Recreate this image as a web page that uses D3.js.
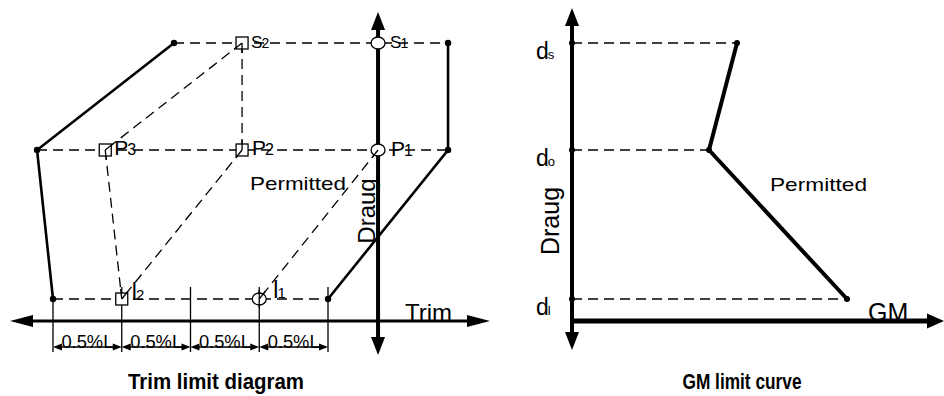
<!DOCTYPE html>
<html>
<head>
<meta charset="utf-8">
<script src="https://cdn.jsdelivr.net/npm/d3@7"></script>
<style>
body { margin: 0; background: #fff; }
text { font-family: "Liberation Sans", Arial, sans-serif; fill: #000; }
</style>
</head>
<body>
<div id="chart"></div>
<script>
// draft levels shared by both diagrams: light, optimum, summer
var draftSubs = ["l", "o", "s"];
var draftValues = [1.1, 8.55, 13.9];

// trim diagram (trim in %L)
var trimTicks = [-2, -1.5, -1, -0.5, 0];
var dimLabel = "0.5%L";
var axisTrim = 0.364;
var envLeftTrim = [-1.12, -2.116, -2];     // at ds, do, dl
var envRightTrim = [0.873, 0.873, 0];
var squareNames = ["S", "P", "P", "l"];
var squareSubs = ["2", "3", "2", "2"];
var squareTrim = [-0.625, -1.62, -0.625, -1.5];
var squareDraft = [13.9, 8.55, 8.55, 1.1];
var circleNames = ["S", "P", "l"];
var circleSubs = ["1", "1", "1"];
var circleTrim = [0.364, 0.364, -0.5];
var circleDraft = [13.9, 8.55, 1.1];
// construction lines, from point to point (trim, draft)
var guides = [
  [[-0.625, 13.9], [-1.62, 8.55]],
  [[-0.625, 13.9], [-0.625, 8.55]],
  [[-1.62, 8.55], [-1.5, 1.1]],
  [[-0.625, 8.55], [-1.5, 1.1]],
  [[0.364, 8.55], [-0.5, 1.1]]
];

// GM limit curve
var gmValues = [3.3, 2.74, 5.5];
var gmDrafts = [13.9, 8.55, 1.1];

var W = 944, H = 396;
var svg = d3.select("#chart").append("svg").attr("width", W).attr("height", H);

var xT = d3.scaleLinear().domain([-2, 0]).range([53, 328]);
var yD = d3.scaleLinear().domain([0, 14]).range([321, 41]);
var xG = d3.scaleLinear().domain([0, 7.44]).range([572, 944]);

var dash = "10,6";

function arrowLine(g, x1, y1, x2, y2, sw, len, half, both) {
  var dx = x2 - x1, dy = y2 - y1, L = Math.hypot(dx, dy), ux = dx / L, uy = dy / L;
  g.append("line")
    .attr("x1", x1 + (both ? ux * len * 0.8 : 0)).attr("y1", y1 + (both ? uy * len * 0.8 : 0))
    .attr("x2", x2 - ux * len * 0.8).attr("y2", y2 - uy * len * 0.8)
    .attr("stroke", "#000").attr("stroke-width", sw);
  function head(tx, ty, vx, vy) {
    var bx = tx - vx * len, by = ty - vy * len;
    g.append("polygon")
      .attr("points", [[tx, ty], [bx - vy * half, by + vx * half], [bx + vy * half, by - vx * half]].map(function(p){ return p.join(","); }).join(" "))
      .attr("fill", "#000");
  }
  head(x2, y2, ux, uy);
  if (both) head(x1, y1, -ux, -uy);
}

function label(g, x, y, main, sub, fs, subFs) {
  var t = g.append("text").attr("x", x).attr("y", y).attr("font-size", fs);
  t.append("tspan").text(main);
  if (sub) t.append("tspan").attr("font-size", subFs).attr("dx", -1).text(sub);
  return t;
}

// ---------------- Trim limit diagram ----------------
var left = svg.append("g");

// dashed draft rows
var rowL = [envLeftTrim[2], envLeftTrim[1], envLeftTrim[0]];
var rowR = [envRightTrim[2], envRightTrim[1], envRightTrim[0]];
draftValues.forEach(function(d, i) {
  left.append("line")
    .attr("x1", xT(rowL[i])).attr("x2", xT(rowR[i]))
    .attr("y1", yD(d)).attr("y2", yD(d))
    .attr("stroke", "#000").attr("stroke-width", 1.3).attr("stroke-dasharray", dash);
});

guides.forEach(function(gd) {
  left.append("line")
    .attr("x1", xT(gd[0][0])).attr("y1", yD(gd[0][1]))
    .attr("x2", xT(gd[1][0])).attr("y2", yD(gd[1][1]))
    .attr("stroke", "#000").attr("stroke-width", 1.3).attr("stroke-dasharray", dash);
});

// envelope
var envD = [13.9, 8.55, 1.1];
var line = d3.line().x(function(p){ return xT(p[0]); }).y(function(p){ return yD(p[1]); });
[envLeftTrim, envRightTrim].forEach(function(env) {
  left.append("path")
    .attr("d", line(env.map(function(t, i){ return [t, envD[i]]; })))
    .attr("fill", "none").attr("stroke", "#000").attr("stroke-width", 2.6);
  env.forEach(function(t, i) {
    left.append("circle").attr("cx", xT(t)).attr("cy", yD(envD[i])).attr("r", 3.2).attr("fill", "#000");
  });
});

// ticks and dimension arrows
trimTicks.forEach(function(t, i) {
  left.append("line")
    .attr("x1", xT(t)).attr("x2", xT(t))
    .attr("y1", i === 0 ? yD(1.1) : 287).attr("y2", 352)
    .attr("stroke", "#000").attr("stroke-width", 1.3);
  if (i > 0) {
    var a = xT(trimTicks[i - 1]), b = xT(t);
    left.append("text")
      .attr("x", (a + b) / 2).attr("y", 348)
      .attr("text-anchor", "middle").attr("font-size", 18)
      .attr("textLength", 52).attr("lengthAdjust", "spacingAndGlyphs")
      .text(dimLabel);
    arrowLine(left, a, 347, b, 347, 1.3, 9, 3.5, true);
  }
});

// axes
arrowLine(left, 10, 321, 490, 321, 3, 23, 6, true);
arrowLine(left, xT(axisTrim), 355, xT(axisTrim), 12, 4, 18, 7, true);

// markers
squareTrim.forEach(function(t, i) {
  left.append("rect")
    .attr("x", xT(t) - 6).attr("y", yD(squareDraft[i]) - 6)
    .attr("width", 12).attr("height", 12)
    .attr("fill", "#fff").attr("stroke", "#000").attr("stroke-width", 1.3);
});
circleTrim.forEach(function(t, i) {
  left.append("ellipse")
    .attr("cx", xT(t)).attr("cy", yD(circleDraft[i]))
    .attr("rx", 7).attr("ry", 6)
    .attr("fill", "#fff").attr("stroke", "#000").attr("stroke-width", 1.3);
});
// slash of each guide through its end markers
guides.forEach(function(gd) {
  var x1 = xT(gd[0][0]), y1 = yD(gd[0][1]), x2 = xT(gd[1][0]), y2 = yD(gd[1][1]);
  var L = Math.hypot(x2 - x1, y2 - y1), ux = (x2 - x1) / L, uy = (y2 - y1) / L;
  [[x1, y1, 1], [x2, y2, -1]].forEach(function(e) {
    left.append("line")
      .attr("x1", e[0]).attr("y1", e[1])
      .attr("x2", e[0] + e[2] * ux * 10).attr("y2", e[1] + e[2] * uy * 10)
      .attr("stroke", "#000").attr("stroke-width", 1.3);
  });
});
// l1 tick passes through its circle
left.append("line")
  .attr("x1", xT(-0.5)).attr("x2", xT(-0.5)).attr("y1", 290).attr("y2", 308)
  .attr("stroke", "#000").attr("stroke-width", 1.3);

// point labels
var sqOff = [[9, 5, 17, 14], [9, 5, 21, 16], [10, 5, 21, 16], [10, 1, 23, 15]];
squareTrim.forEach(function(t, i) {
  var o = sqOff[i];
  label(left, xT(t) + o[0], yD(squareDraft[i]) + o[1], squareNames[i], squareSubs[i], o[2], o[3]);
});
var ciOff = [[12, 5, 17, 14], [13, 6, 21, 16], [14, -1, 23, 15]];
circleTrim.forEach(function(t, i) {
  var o = ciOff[i];
  label(left, xT(t) + o[0], yD(circleDraft[i]) + o[1], circleNames[i], circleSubs[i], o[2], o[3]);
});

left.append("text").attr("x", 250).attr("y", 190).attr("font-size", 19)
  .attr("textLength", 96).attr("lengthAdjust", "spacingAndGlyphs").text("Permitted");
left.append("text").attr("x", 405).attr("y", 321).attr("font-size", 24).text("Trim");
left.append("text").attr("transform", "translate(375,211) rotate(-90)")
  .attr("text-anchor", "middle").attr("font-size", 24).text("Draug");
left.append("text").attr("x", 216).attr("y", 389).attr("text-anchor", "middle")
  .attr("font-size", 22).attr("font-weight", "bold")
  .attr("textLength", 176).attr("lengthAdjust", "spacingAndGlyphs").text("Trim limit diagram");

// ---------------- GM limit curve ----------------
var right = svg.append("g");

draftValues.forEach(function(d, i) {
  var gm = gmValues[gmDrafts.indexOf(d)];
  right.append("line")
    .attr("x1", xG(0)).attr("x2", xG(gm))
    .attr("y1", yD(d)).attr("y2", yD(d))
    .attr("stroke", "#000").attr("stroke-width", 1.3).attr("stroke-dasharray", dash);
  right.append("circle").attr("cx", xG(0)).attr("cy", yD(d)).attr("r", 3).attr("fill", "#000");
  label(right, 536, yD(d) + 16, "d", draftSubs[i], 23, 13);
});

right.append("path")
  .attr("d", d3.line().x(function(p){ return xG(p[0]); }).y(function(p){ return yD(p[1]); })
    (gmValues.map(function(g, i){ return [g, gmDrafts[i]]; })))
  .attr("fill", "none").attr("stroke", "#000").attr("stroke-width", 4).attr("stroke-linejoin", "round");
gmValues.forEach(function(g, i) {
  right.append("circle").attr("cx", xG(g)).attr("cy", yD(gmDrafts[i])).attr("r", 3).attr("fill", "#000");
});

arrowLine(right, xG(0), 350, xG(0), 8, 4, 18, 7, true);
arrowLine(right, xG(0) - 2, 321, 944, 321, 5, 17, 7.5, false);

right.append("text").attr("x", 770).attr("y", 191).attr("font-size", 19)
  .attr("textLength", 97).attr("lengthAdjust", "spacingAndGlyphs").text("Permitted");
right.append("text").attr("x", 868).attr("y", 321).attr("font-size", 25).text("GM");
right.append("text").attr("transform", "translate(559,221) rotate(-90)")
  .attr("text-anchor", "middle").attr("font-size", 25).text("Draug");
right.append("text").attr("x", 742).attr("y", 389).attr("text-anchor", "middle")
  .attr("font-size", 22).attr("font-weight", "bold")
  .attr("textLength", 119).attr("lengthAdjust", "spacingAndGlyphs").text("GM limit curve");
</script>
</body>
</html>
